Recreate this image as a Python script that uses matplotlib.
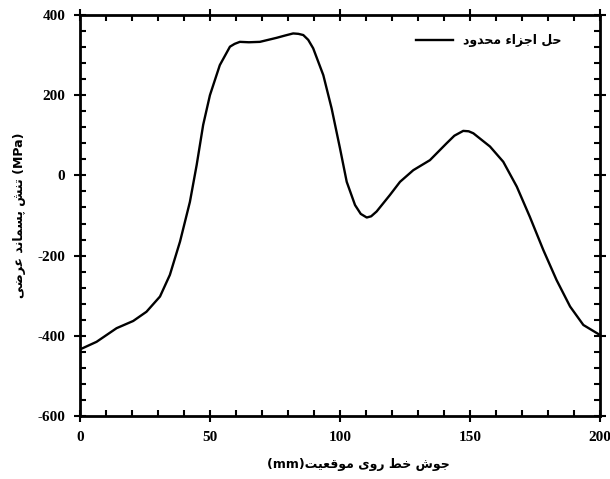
import matplotlib
matplotlib.use("Agg")
import matplotlib.pyplot as plt
from matplotlib.ticker import MultipleLocator

# weld line position (mm) and transverse residual stress (MPa)
x_pos = [0, 6.4, 14.1, 20.5, 25.6, 30.8, 34.6, 38.5, 42.3, 44.9, 47.4, 50, 53.8,
         57.7, 59.5, 61.5, 65, 69.2, 75.6, 79, 82, 84, 85.9, 87.8, 89.7, 93.6,
         96.8, 100, 102.6, 105.8, 108, 110.3, 112, 114.1, 119.2, 123.1, 128.2,
         134.6, 141, 144, 147.4, 149.5, 151.3, 157.7, 162.8, 168, 173, 178.2,
         183.3, 188.5, 193.6, 200]
stress = [-434, -415, -381, -363, -340, -302, -248, -165, -66, 26, 126, 200, 275,
          321, 328, 333, 332, 333, 343, 349, 354, 353, 350, 338, 317, 250,
          167, 68, -16, -74, -96, -105, -102, -90, -49, -16, 13,
          38, 80, 99, 111, 110, 105, 72, 34, -28, -103, -186,
          -261, -327, -373, -398]

legend_label = "حل اجزاء محدود"
xlabel_words = ["موقعیت", "روی", "خط", "جوش"]
ylabel_fa = "تنش پسماند عرضی"

# minimal arabic/persian shaping (matplotlib has none): iso, fin, ini, med
FORMS = {
    'ا': (0xFE8D, 0xFE8E), 'ء': (0xFE80,),
    'ت': (0xFE95, 0xFE96, 0xFE97, 0xFE98), 'ج': (0xFE9D, 0xFE9E, 0xFE9F, 0xFEA0),
    'ح': (0xFEA1, 0xFEA2, 0xFEA3, 0xFEA4), 'خ': (0xFEA5, 0xFEA6, 0xFEA7, 0xFEA8),
    'د': (0xFEA9, 0xFEAA), 'ر': (0xFEAD, 0xFEAE), 'ز': (0xFEAF, 0xFEB0),
    'س': (0xFEB1, 0xFEB2, 0xFEB3, 0xFEB4), 'ش': (0xFEB5, 0xFEB6, 0xFEB7, 0xFEB8),
    'ض': (0xFEBD, 0xFEBE, 0xFEBF, 0xFEC0), 'ط': (0xFEC1, 0xFEC2, 0xFEC3, 0xFEC4),
    'ع': (0xFEC9, 0xFECA, 0xFECB, 0xFECC), 'ق': (0xFED5, 0xFED6, 0xFED7, 0xFED8),
    'ل': (0xFEDD, 0xFEDE, 0xFEDF, 0xFEE0), 'م': (0xFEE1, 0xFEE2, 0xFEE3, 0xFEE4),
    'ن': (0xFEE5, 0xFEE6, 0xFEE7, 0xFEE8), 'و': (0xFEED, 0xFEEE),
    'پ': (0xFB56, 0xFB57, 0xFB58, 0xFB59), 'ی': (0xFBFC, 0xFBFD, 0xFBFE, 0xFBFF),
}


def shape(text):
    out = []
    for i, ch in enumerate(text):
        f = FORMS.get(ch)
        if f is None:
            out.append(ch)
            continue
        prev = text[i - 1] if i > 0 else ''
        nxt = text[i + 1] if i + 1 < len(text) else ''
        jp = len(f) >= 2 and prev in FORMS and len(FORMS[prev]) == 4
        jn = len(f) == 4 and nxt in FORMS and len(FORMS[nxt]) >= 2
        idx = 3 if (jp and jn) else 1 if jp else 2 if jn else 0
        out.append(chr(f[idx]))
    return ''.join(out)[::-1]


plt.rcParams['font.family'] = ['Liberation Serif', 'DejaVu Sans']
plt.rcParams['axes.unicode_minus'] = False
fa_font = dict(family=['DejaVu Sans'], weight='bold', size=9)

fig = plt.figure(figsize=(6.1, 4.79), dpi=100)
ax = fig.add_axes([0.131, 0.1315, 0.8526, 0.8372])

ax.plot(x_pos, stress, color='black', lw=1.7, label=shape(legend_label))

ax.set_xlim(0, 200)
ax.set_ylim(-600, 400)
ax.xaxis.set_major_locator(MultipleLocator(50))
ax.xaxis.set_minor_locator(MultipleLocator(10))
ax.yaxis.set_major_locator(MultipleLocator(200))
ax.yaxis.set_minor_locator(MultipleLocator(40))
ax.tick_params(which='both', top=True, right=True, width=1.5)
ax.tick_params(which='major', direction='inout', length=9, labelsize=11, pad=6)
ax.tick_params(which='minor', direction='in', length=4)
for lab in ax.get_xticklabels() + ax.get_yticklabels():
    lab.set_fontweight('bold')
for sp in ax.spines.values():
    sp.set_linewidth(2)

# x label as in the figure: (mm) first, words left to right
ax.set_xlabel("(mm)" + " ".join(shape(w) for w in xlabel_words), fontdict=fa_font)
ax.xaxis.set_label_coords(0.535, -0.105)
ax.set_ylabel(shape(ylabel_fa) + " (MPa)", fontdict=fa_font, labelpad=8)

leg = ax.legend(loc='upper right', bbox_to_anchor=(0.948, 0.98), frameon=False,
                handlelength=3.0, prop=dict(family='DejaVu Sans', weight='bold', size=9))

fig.savefig("out.png", dpi=100)
